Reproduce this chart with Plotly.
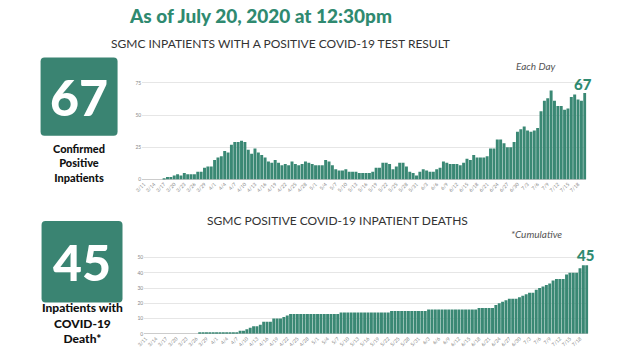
import datetime as dt
import plotly.graph_objects as go

# ---- data ----
start = dt.date(2020, 3, 11)
dates = [(start + dt.timedelta(days=i)) for i in range(132)]
date_labels = [f"{d.month}/{d.day}" for d in dates]
tick_labels = date_labels[::3]

inpatients = [0, 0, 0, 0, 0, 0,
              1, 2, 2, 3, 4, 3, 5, 4, 4, 4, 6, 6, 9, 10, 10, 15, 17, 18, 22, 21,
              27, 29, 29, 30, 29, 23, 20, 24, 21, 19, 17, 14, 13, 15, 13, 11, 12, 11, 14, 12,
              11, 12, 14, 13, 12, 11, 11, 11, 15, 14, 11, 8, 7, 7, 8, 6, 6, 6, 5, 5,
              5, 5, 6, 9, 9, 13, 13, 12, 8, 10, 13, 13, 10, 6, 5, 3, 6, 8, 7, 6,
              6, 8, 9, 14, 13, 12, 12, 12, 11, 13, 16, 15, 19, 17, 17, 17, 18, 24, 24, 31,
              31, 28, 25, 25, 29, 37, 39, 41, 38, 37, 38, 40, 53, 61, 63, 69, 61, 57, 57, 54,
              55, 64, 66, 62, 61, 67]

deaths = [0, 0, 0, 0, 0, 0, 0, 0, 0, 0, 0, 0, 0, 0, 0, 0,
          1, 1, 1, 1, 1, 1, 1, 1, 1, 1, 1, 1,
          2, 2, 3, 4, 5, 5, 6, 8, 8, 8, 10, 10, 10, 11, 12,
          13, 13, 13, 13, 13, 13, 13, 13, 13, 13, 13, 13, 13, 13, 13,
          14, 14, 14, 14, 14, 14, 14, 14, 14, 14, 14, 14, 14, 14, 14,
          15, 15, 15, 15, 15, 15, 15, 15, 15, 15, 15,
          16, 16, 16, 16, 16, 16, 16, 16, 16, 16, 16, 16, 16, 16, 16,
          17, 17, 17, 17, 17,
          19, 20, 21, 22, 23, 23, 23, 24, 25, 26, 27, 27, 29, 30, 31, 32, 33, 35,
          36, 36, 36, 39, 40, 40, 40, 43, 45, 45]

top_ticks = [0, 25, 50, 75]
bot_ticks = [0, 10, 20, 30, 40, 50]

W, H = 621, 352
GREEN = "#2f8a70"
BAR = "#3a8874"
BOX = "#3a8472"

def px(x):
    return x / W

def py(y):
    return 1 - y / H

fig = go.Figure()
fig.add_trace(go.Bar(x=date_labels, y=inpatients, marker_color=BAR, marker_line_width=0,
                     xaxis="x", yaxis="y", hoverinfo="x+y"))
fig.add_trace(go.Bar(x=date_labels, y=deaths, marker_color=BAR, marker_line_width=0,
                     xaxis="x2", yaxis="y2", hoverinfo="x+y"))

tickfont = dict(size=5, color="#888888", family="Lato")
fig.update_layout(
    width=W, height=H, margin=dict(l=0, r=0, t=0, b=0),
    paper_bgcolor="white", plot_bgcolor="white", showlegend=False, bargap=0.12,
    xaxis=dict(domain=[px(136), px(586)], type="category", tickvals=tick_labels,
               ticktext=tick_labels, tickangle=-45, tickfont=tickfont, showgrid=False,
               ticks="", anchor="y"),
    yaxis=dict(domain=[py(181), py(77)], range=[0, 80], tickvals=top_ticks,
               tickfont=tickfont, gridcolor="#e6e6e6", gridwidth=1, zeroline=True,
               zerolinecolor="#cccccc", zerolinewidth=1, ticks="", anchor="x"),
    xaxis2=dict(domain=[px(138), px(588)], type="category", tickvals=tick_labels,
                ticktext=tick_labels, tickangle=-45, tickfont=tickfont, showgrid=False,
                ticks="", anchor="y2"),
    yaxis2=dict(domain=[py(336.7), py(256)], range=[0, 52.5], tickvals=bot_ticks,
                tickfont=tickfont, gridcolor="#e6e6e6", gridwidth=1, zeroline=True,
                zerolinecolor="#cccccc", zerolinewidth=1, ticks="", anchor="x2"),
)

def rounded(x0, y0, x1, y1, r):
    X0, X1 = px(x0), px(x1)
    Y0, Y1 = py(y0), py(y1)
    rx, ry = r / W, r / H
    return (f"M {X0+rx} {Y0} L {X1-rx} {Y0} Q {X1} {Y0} {X1} {Y0-ry} "
            f"L {X1} {Y1+ry} Q {X1} {Y1} {X1-rx} {Y1} L {X0+rx} {Y1} "
            f"Q {X0} {Y1} {X0} {Y1+ry} L {X0} {Y0-ry} Q {X0} {Y0} {X0+rx} {Y0} Z")

fig.add_shape(type="path", path=rounded(33, 58, 111, 137, 4), xref="paper", yref="paper",
              fillcolor=BOX, line=dict(width=0))
fig.add_shape(type="path", path=rounded(34, 223, 116, 305, 4), xref="paper", yref="paper",
              fillcolor=BOX, line=dict(width=0))

def ann(text, x, y, size, color, family="Lato", weight="normal"):
    fig.add_annotation(text=text, x=px(x), y=py(y), xref="paper", yref="paper",
                       showarrow=False, xanchor="center", yanchor="middle",
                       font=dict(size=size, color=color, family=family, weight=weight))

ann("As of July 20, 2020 at 12:30pm", 256, 16, 19, GREEN, weight=900)
ann("SGMC INPATIENTS WITH A POSITIVE COVID-19 TEST RESULT", 276, 44, 12, "#333333")
ann("<i>Each Day</i>", 535, 67, 10, "#555555")
ann("67", 583, 85, 15, GREEN, weight=900)
ann("67", 72, 98, 50, "white", weight=900)
ann("Confirmed<br>Positive<br>Inpatients", 72, 164, 11, "#111111", weight=900)

ann("SGMC POSITIVE COVID-19 INPATIENT DEATHS", 334, 222, 12, "#333333")
ann("<i>*Cumulative</i>", 535, 236, 10, "#555555")
ann("45", 585, 257, 15, GREEN, weight=900)
ann("45", 75, 264, 50, "white", weight=900)
ann("Inpatients with<br>COVID-19<br>Death*", 75, 326, 12, "#111111", weight=900)

fig.write_html("out.html")
